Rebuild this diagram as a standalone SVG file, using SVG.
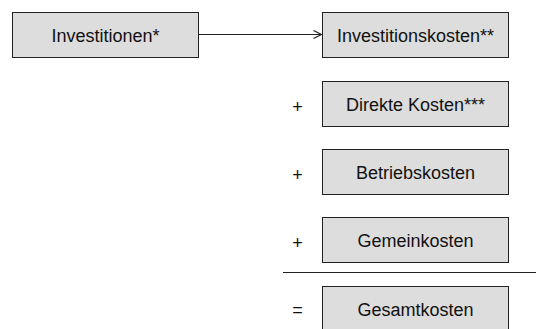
<svg xmlns="http://www.w3.org/2000/svg" width="536" height="329" viewBox="0 0 536 329">
<style>
.box{fill:#dddddd;stroke:#222;stroke-width:1}
text{font-family:"Liberation Sans",Arial,sans-serif;font-size:18px;fill:#111;text-anchor:middle}
.conn{stroke:#222;stroke-width:1.2;fill:none}
</style>
<defs>
<marker id="arr" markerWidth="10" markerHeight="10" refX="9" refY="5" orient="auto" markerUnits="userSpaceOnUse">
<path d="M1,1 L9,5 L1,9" fill="none" stroke="#222" stroke-width="1.2"/>
</marker>
</defs>
<rect width="536" height="329" fill="#fff"/>
<g id="connectors">
<line class="conn" x1="198.5" y1="34.5" x2="321.5" y2="34.5" marker-end="url(#arr)"/>
<line class="conn" x1="283" y1="272.5" x2="536" y2="272.5"/>
</g>
<g id="investitionen">
<rect class="box" x="12.5" y="12.5" width="186" height="45"/>
<text x="105.5" y="42">Investitionen*</text>
</g>
<g id="investitionskosten">
<rect class="box" x="322.5" y="12.5" width="186" height="45"/>
<text x="415.5" y="42">Investitionskosten**</text>
</g>
<g id="direkte">
<rect class="box" x="322.5" y="81.5" width="186" height="45"/>
<text x="415.5" y="111">Direkte Kosten***</text>
<text x="297.5" y="113">+</text>
</g>
<g id="betrieb">
<rect class="box" x="322.5" y="149.5" width="186" height="45"/>
<text x="415.5" y="179">Betriebskosten</text>
<text x="297.5" y="181">+</text>
</g>
<g id="gemein">
<rect class="box" x="322.5" y="217.5" width="186" height="45"/>
<text x="415.5" y="247">Gemeinkosten</text>
<text x="297.5" y="249">+</text>
</g>
<g id="gesamt">
<rect class="box" x="322.5" y="286.5" width="186" height="45"/>
<text x="415.5" y="316">Gesamtkosten</text>
<text x="297.5" y="316">=</text>
</g>
</svg>
